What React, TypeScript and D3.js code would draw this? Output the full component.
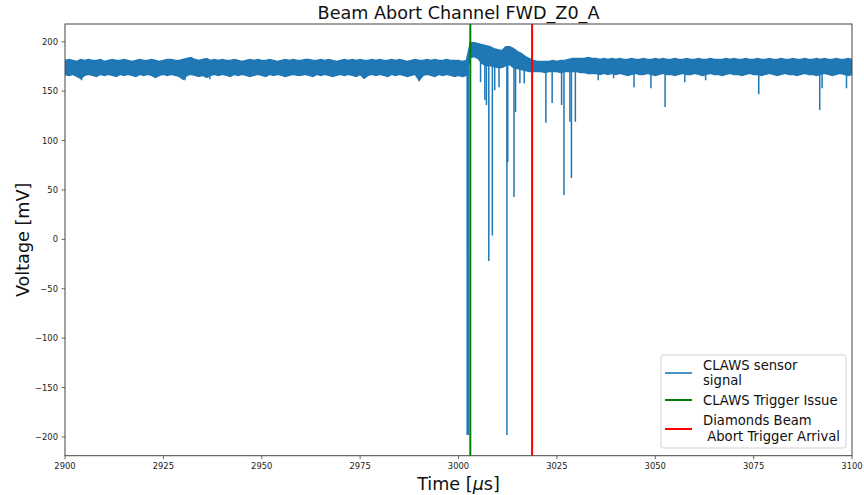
import React from "react";
import * as d3 from "d3";

// ---- Data ----
const bandStart = 2900; // µs, first sample of the envelope
const bandStep = 1; // µs between envelope samples

// Upper edge of the noisy signal band (mV), one value per µs, 2900..3100
const bandUpper = [
  181, 182, 181, 180, 182, 181, 182, 181, 181, 182, 180, 181, 182, 181, 181, 182, 181, 180, 181, 182,
  181, 181, 182, 181, 180, 181, 182, 182, 181, 181, 182, 183, 184, 182, 181, 182, 183, 181, 182, 181,
  182, 181, 181, 182, 181, 180, 181, 182, 181, 182, 181, 181, 182, 181, 180, 181, 182, 181, 182, 181,
  181, 182, 182, 181, 181, 182, 181, 182, 181, 180, 181, 182, 181, 182, 181, 182, 181, 181, 182, 181,
  182, 181, 181, 182, 181, 182, 181, 180, 181, 182, 181, 181, 182, 181, 182, 181, 181, 182, 181, 181,
  181, 180, 181, 199, 199, 198, 197, 196, 195, 193, 192, 191, 195, 195, 193, 190, 188, 185, 183, 181,
  180, 180, 180, 180, 181, 180, 181, 181, 182, 183, 183, 183, 183, 184, 183, 183, 182, 183, 182, 183,
  182, 183, 182, 182, 183, 182, 182, 183, 182, 182, 183, 182, 183, 182, 182, 183, 182, 182, 183, 182,
  182, 183, 182, 182, 183, 182, 182, 182, 183, 182, 183, 182, 182, 183, 182, 182, 183, 182, 182, 183,
  182, 182, 183, 182, 182, 183, 182, 182, 183, 182, 182, 183, 182, 183, 182, 182, 183, 182, 182, 183,
  182,
];

// Lower edge of the noisy signal band (mV), one value per µs, 2900..3100
const bandLower = [
  167, 166, 167, 165, 163, 166, 167, 166, 165, 167, 166, 167, 166, 165, 167, 166, 167, 166, 165, 167,
  166, 167, 166, 164, 166, 167, 166, 167, 166, 165, 162, 166, 167, 166, 165, 166, 164, 166, 167, 166,
  167, 166, 165, 167, 166, 167, 166, 165, 166, 167, 166, 165, 167, 166, 167, 166, 165, 166, 167, 166,
  166, 167, 166, 165, 167, 166, 167, 166, 165, 166, 167, 166, 167, 166, 165, 167, 163, 166, 167, 166,
  167, 166, 165, 167, 166, 167, 166, 165, 166, 167, 161, 166, 167, 166, 165, 167, 166, 167, 166, 165,
  166, 165, 166, 184, 185, 183, 178, 176, 176, 175, 174, 174, 176, 177, 174, 173, 172, 171, 170, 170,
  170, 170, 169, 170, 170, 170, 169, 170, 170, 170, 170, 169, 169, 168, 168, 168, 167, 168, 167, 168,
  167, 168, 167, 166, 167, 168, 167, 167, 168, 167, 166, 167, 168, 167, 167, 166, 167, 168, 167, 167,
  168, 167, 166, 167, 168, 167, 167, 166, 167, 168, 167, 167, 166, 167, 168, 167, 167, 166, 167, 168,
  167, 166, 167, 168, 167, 167, 166, 167, 168, 167, 167, 166, 167, 168, 167, 166, 167, 168, 167, 166,
  167,
];

// Downward spikes: time (µs) and minimum value (mV)
const spikeTimes = [
  2904.2, 2930.5, 2936.8, 2990.0,
  3002.2, 3002.4, 3002.5,
  3005.6, 3006.7, 3007.1, 3007.7, 3008.6, 3009.2, 3010.3,
  3012.3, 3012.5, 3014.1, 3014.5, 3015.6, 3016.7,
  3022.2, 3023.8, 3026.2, 3026.8, 3028.3, 3028.7, 3029.7,
  3035.5, 3039.4, 3044.6, 3048.9, 3052.5, 3057.5, 3062.8, 3076.3,
  3091.8, 3092.4, 3098.6,
];
const spikeMins = [
  161, 161, 162, 160,
  -198, -16, -198,
  159, 141, 136, -22, 4, 151, 154,
  -198, 78, 43, 129, 158, 158,
  118, 138, 136, 45, 119, 62, 119,
  161, 163, 154, 153, 134, 159, 161, 147,
  131, 153, 153,
];

const claswsTriggerTime = 3003.0;
const diamondsTriggerTime = 3018.7;

const xTicks = [2900, 2925, 2950, 2975, 3000, 3025, 3050, 3075, 3100];
const yTicks = [-200, -150, -100, -50, 0, 50, 100, 150, 200];

const titleText = "Beam Abort Channel FWD_Z0_A";
const yLabelText = "Voltage [mV]";
const legendLabels = [
  ["CLAWS sensor", "signal"],
  ["CLAWS Trigger Issue"],
  ["Diamonds Beam", " Abort Trigger Arrival"],
];

// ---- Layout ----
const W = 864;
const H = 495;
const plot = { left: 65, right: 852, top: 24, bottom: 455.7 };
const FONT = "'DejaVu Sans', sans-serif";
const BLUE = "#1f77b4";

export default function App() {
  const x = d3.scaleLinear().domain([2900, 3100]).range([plot.left, plot.right]);
  const y = d3.scaleLinear().domain([-219, 218]).range([plot.bottom, plot.top]);

  const bandData = bandUpper.map((u, i) => ({
    t: bandStart + i * bandStep,
    u,
    l: bandLower[i],
  }));

  type B = { t: number; u: number; l: number };
  const area = d3
    .area<B>()
    .x((d) => x(d.t))
    .y0((d) => y(d.l))
    .y1((d) => y(d.u));
  const upperLine = d3
    .line<B>()
    .x((d) => x(d.t))
    .y((d) => y(d.u));
  const lowerLine = d3
    .line<B>()
    .x((d) => x(d.t))
    .y((d) => y(d.l));

  const seg = d3
    .line<[number, number]>()
    .x((d) => x(d[0]))
    .y((d) => y(d[1]));

  const spikes = spikeTimes.map((t, i) => {
    const idx = Math.min(bandLower.length - 1, Math.max(0, Math.floor((t - bandStart) / bandStep)));
    const top = (bandLower[idx] + bandUpper[idx]) / 2;
    return seg([
      [t, top],
      [t, spikeMins[i]],
    ]) as string;
  });

  const legend = { x: 661, y: 355, w: 185, h: 93 };

  return (
    <svg
      width={W}
      height={H}
      viewBox={`0 0 ${W} ${H}`}
      style={{ position: "absolute", left: 0, top: 0, background: "#fff" }}
      fontFamily={FONT}
    >
      <defs>
        <clipPath id="plotClip">
          <rect x={plot.left} y={plot.top} width={plot.right - plot.left} height={plot.bottom - plot.top} />
        </clipPath>
      </defs>
      <rect x={0} y={0} width={W} height={H} fill="#fff" />

      {/* Title */}
      <text x={(plot.left + plot.right) / 2} y={19} textAnchor="middle" fontSize={17.6} fill="#111">
        {titleText}
      </text>

      <g clipPath="url(#plotClip)">
        {/* signal band */}
        <path d={area(bandData) as string} fill={BLUE} />
        <path d={upperLine(bandData) as string} fill="none" stroke={BLUE} strokeWidth={1.5} />
        <path d={lowerLine(bandData) as string} fill="none" stroke={BLUE} strokeWidth={1.5} />
        {spikes.map((d, i) => (
          <path key={i} d={d} fill="none" stroke={BLUE} strokeWidth={1.5} />
        ))}
        {/* trigger lines */}
        <line
          x1={x(claswsTriggerTime)}
          x2={x(claswsTriggerTime)}
          y1={plot.top}
          y2={plot.bottom}
          stroke="#008000"
          strokeWidth={2}
        />
        <line
          x1={x(diamondsTriggerTime)}
          x2={x(diamondsTriggerTime)}
          y1={plot.top}
          y2={plot.bottom}
          stroke="#ff0000"
          strokeWidth={2}
        />
      </g>

      {/* Axes frame */}
      <rect
        x={plot.left}
        y={plot.top}
        width={plot.right - plot.left}
        height={plot.bottom - plot.top}
        fill="none"
        stroke="#444"
        strokeWidth={1}
      />

      {/* X ticks */}
      {xTicks.map((t) => (
        <g key={t}>
          <line x1={x(t)} x2={x(t)} y1={plot.bottom} y2={plot.bottom + 3.5} stroke="#444" strokeWidth={0.8} />
          <text x={x(t)} y={469.3} textAnchor="middle" fontSize={8.4} fill="#222">
            {t}
          </text>
        </g>
      ))}

      {/* Y ticks */}
      {yTicks.map((v) => (
        <g key={v}>
          <line x1={plot.left - 3.5} x2={plot.left} y1={y(v)} y2={y(v)} stroke="#444" strokeWidth={0.8} />
          <text x={58} y={y(v) + 3} textAnchor="end" fontSize={8.4} fill="#222">
            {v < 0 ? `\u2212${Math.abs(v)}` : v}
          </text>
        </g>
      ))}

      {/* Axis labels */}
      <text x={(plot.left + plot.right) / 2} y={490} textAnchor="middle" fontSize={17.6} fill="#111">
        Time [<tspan fontStyle="italic">μ</tspan>s]
      </text>
      <text
        transform={`translate(29, ${(plot.top + plot.bottom) / 2}) rotate(-90)`}
        textAnchor="middle"
        fontSize={17.6}
        fill="#111"
      >
        {yLabelText}
      </text>

      {/* Legend */}
      <rect
        x={legend.x}
        y={legend.y}
        width={legend.w}
        height={legend.h}
        rx={2.5}
        fill="#fff"
        fillOpacity={0.85}
        stroke="#d0d0d0"
        strokeWidth={1}
      />
      <line x1={665} x2={692} y1={373} y2={373} stroke={BLUE} strokeOpacity={0.8} strokeWidth={2} />
      <line x1={665} x2={692} y1={400} y2={400} stroke="#008000" strokeWidth={2} />
      <line x1={665} x2={692} y1={429} y2={429} stroke="#ff0000" strokeWidth={2} />
      <text fontSize={13.2} fill="#111" style={{ whiteSpace: "pre" }}>
        <tspan x={703} y={370}>{legendLabels[0][0]}</tspan>
        <tspan x={703} y={385}>{legendLabels[0][1]}</tspan>
        <tspan x={703} y={405}>{legendLabels[1][0]}</tspan>
        <tspan x={703} y={425}>{legendLabels[2][0]}</tspan>
        <tspan x={703} y={440.5}>{legendLabels[2][1]}</tspan>
      </text>
    </svg>
  );
}
